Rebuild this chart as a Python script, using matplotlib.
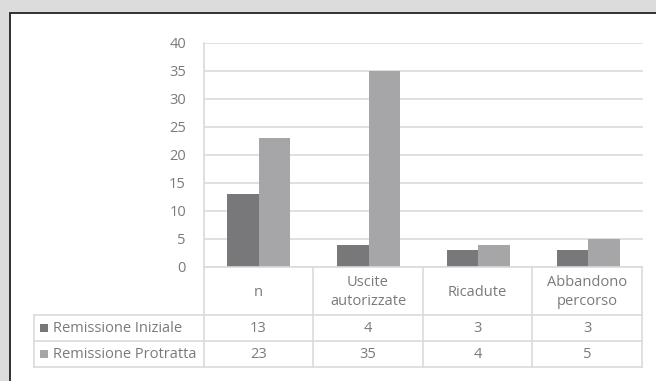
import numpy as np
import matplotlib.pyplot as plt
from matplotlib.patches import Rectangle
from matplotlib.lines import Line2D

categories = ["n", "Uscite\nautorizzate", "Ricadute", "Abbandono\npercorso"]
series_names = ["Remissione Iniziale", "Remissione Protratta"]
iniziale = [13, 4, 3, 3]
protratta = [23, 35, 4, 5]
yticks = [0, 5, 10, 15, 20, 25, 30, 35, 40]

W, H = 656, 381
colors = ["#78787b", "#a6a6a9"]
grid_c = "#dadada"
text_c = "#7a7a7a"
fs = 10.5
plt.rcParams['font.family'] = ['Open Sans', 'DejaVu Sans']

fig = plt.figure(figsize=(W / 100, H / 100), dpi=100)
fig.patch.set_facecolor("#dcdcdc")


def fx(px):
    return px / W


def fy(py):
    return 1 - py / H


# white panel with dark frame
fig.patches.append(Rectangle((fx(10), fy(400)), fx(700), 387 / H, transform=fig.transFigure,
                             facecolor="white", edgecolor="#222222", lw=1.3, zorder=-10))

ax = fig.add_axes([fx(204), fy(267), fx(643 - 204), (267 - 43) / H])
ax.patch.set_alpha(0)
x = np.arange(len(categories))
bw = 0.288
ax.bar(x - bw / 2, iniziale, bw, color=colors[0], zorder=3)
ax.bar(x + bw / 2, protratta, bw, color=colors[1], zorder=3)
ax.set_xlim(-0.5, len(categories) - 0.5)
ax.set_ylim(0, 40)
ax.set_yticks(yticks)
ax.set_yticklabels([str(t) for t in yticks], color=text_c, fontsize=fs)
ax.tick_params(axis="y", length=0, pad=13)
ax.set_xticks([])
ax.yaxis.grid(True, color=grid_c, lw=1.2)
ax.set_axisbelow(True)
for s in ["top", "right", "bottom"]:
    ax.spines[s].set_visible(False)
ax.spines["left"].set_color(grid_c)
ax.spines["left"].set_linewidth(1.2)

# data table under the chart
cols = [204, 313, 423, 532, 642]
rows = [267, 315, 341, 367]


def hline(y, x0, x1):
    fig.lines.append(Line2D([fx(x0), fx(x1)], [fy(y), fy(y)], transform=fig.transFigure,
                            color=grid_c, lw=1.2))


def vline(xp, y0, y1):
    fig.lines.append(Line2D([fx(xp), fx(xp)], [fy(y0), fy(y1)], transform=fig.transFigure,
                            color=grid_c, lw=1.2))


hline(267, 204, 642)
for r in rows[1:]:
    hline(r, 34, 642)
for c in cols:
    vline(c, 267, 367)
vline(34, 315, 367)

for i, cat in enumerate(categories):
    cx = (cols[i] + cols[i + 1]) / 2
    fig.text(fx(cx), fy(292), cat, ha="center", va="center", color=text_c,
             fontsize=fs, linespacing=1.3)
    fig.text(fx(cx), fy(328), str(iniziale[i]), ha="center", va="center", color=text_c, fontsize=fs)
    fig.text(fx(cx), fy(354), str(protratta[i]), ha="center", va="center", color=text_c, fontsize=fs)

for j, name in enumerate(series_names):
    yc = (rows[j + 1] + rows[j + 2]) / 2
    fig.patches.append(Rectangle((fx(40), fy(yc + 4)), fx(8), 8 / H, transform=fig.transFigure,
                                 facecolor=colors[j], edgecolor="none"))
    fig.text(fx(53), fy(yc), name, ha="left", va="center", color=text_c, fontsize=fs)

fig.savefig("out.png", dpi=100, facecolor=fig.get_facecolor())
